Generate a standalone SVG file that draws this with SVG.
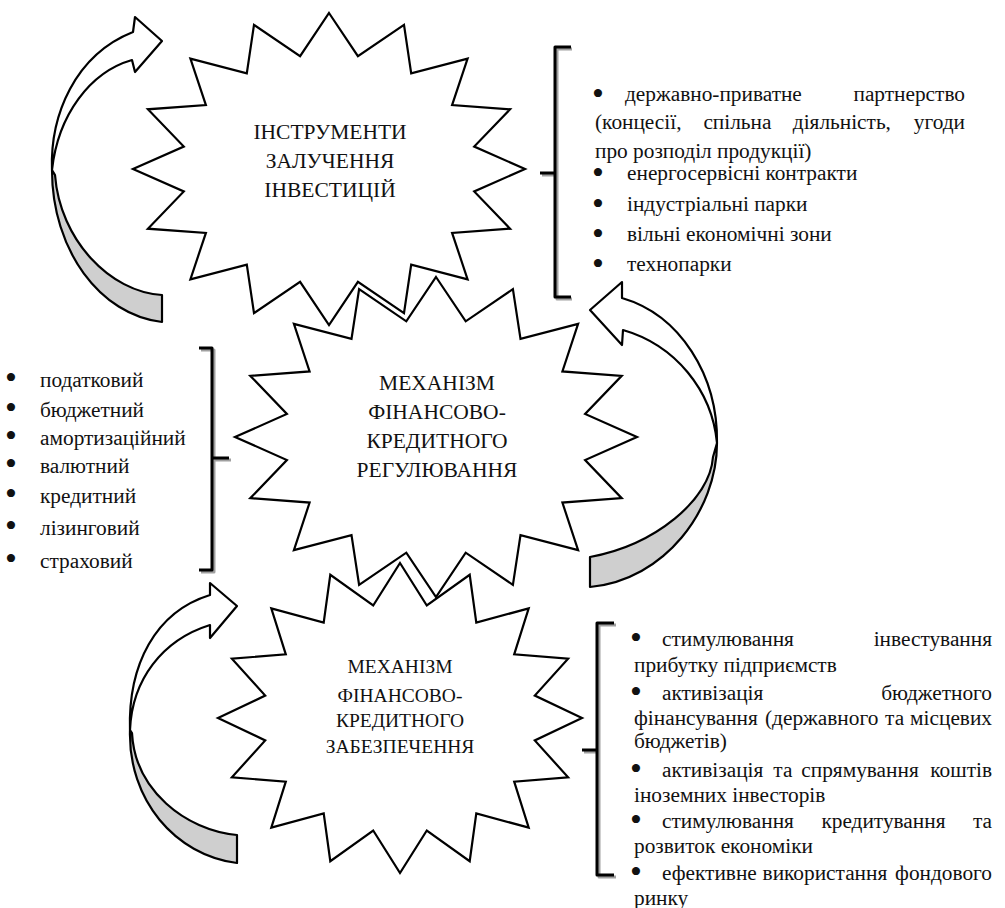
<svg xmlns="http://www.w3.org/2000/svg" width="1005" height="908" viewBox="0 0 1005 908">
<style>
.star{fill:#fff;stroke:#000;stroke-width:2.2;stroke-linejoin:miter}
.lbl{font-family:"Liberation Serif","Times New Roman",serif;font-size:21.5px;fill:#111;text-anchor:middle}
.lbl2{font-family:"Liberation Serif","Times New Roman",serif;font-size:19.5px;fill:#111;text-anchor:middle}
.t{font-family:"Liberation Serif","Times New Roman",serif;font-size:21.33px;fill:#111}
.b{font-family:"Liberation Serif","Times New Roman",serif;font-size:34px;fill:#111}
.e{text-anchor:end}
.arr{stroke:#000;stroke-width:2.2;stroke-linejoin:round}
.front{fill:#fff}
.back{fill:#cfcfcf}
.br{fill:none;stroke:#000;stroke-width:3;stroke-linejoin:round}
.brs{fill:none;stroke:#a0a0a0;stroke-width:3;stroke-linejoin:round}
</style>
<rect width="1005" height="908" fill="#fff"/>

<g id="connectors">
  <g id="arrow-top-left">
    <path class="arr back" d="M52,170 C52,250 100,315 162,322 L162,295 C110,292 60,240 55,175 Z"/>
    <path class="arr front" d="M52,170 C50,115 75,55 133,32 L135,17 L162,41 L135,72 L132,60 C90,72 58,115 52,170 Z"/>
  </g>
  <g id="arrow-right">
    <path class="arr back" d="M717,443 C717,510 665,580 590,587 L590,557 C655,545 710,500 713,457 Z"/>
    <path class="arr front" d="M717,443 C718,375 680,315 622,298 L622,282 L590,310 L622,345 L623,330 C675,345 712,390 717,443 Z"/>
  </g>
  <g id="arrow-bottom-left">
    <path class="arr back" d="M130,730 C128,800 175,855 237,863 L237,835 C185,830 135,790 132,733 Z"/>
    <path class="arr front" d="M130,730 C128,665 155,612 210,595 L210,583 L237,606 L210,638 L210,625 C162,640 132,680 130,730 Z"/>
  </g>
</g>

<g id="node-instruments">
  <path class="star" d="M329,13 L357.9,56.2 L404,24.9 L411.2,73.4 L467.6,58.7 L452.1,105.1 L510.1,109.3 L474.2,146.6 L525,169 L474.2,191.4 L510.1,228.7 L452.1,232.9 L467.6,279.3 L411.2,264.6 L404,313.1 L357.9,281.8 L329,325 L300.1,281.8 L254,313.1 L246.8,264.6 L190.4,279.3 L205.9,232.9 L147.9,228.7 L183.8,191.4 L133,169 L183.8,146.6 L147.9,109.3 L205.9,105.1 L190.4,58.7 L246.8,73.4 L254,24.9 L300.1,56.2 Z"/>
  <text class="lbl" x="330" y="139">ІНСТРУМЕНТИ</text>
  <text class="lbl" x="330" y="168">ЗАЛУЧЕННЯ</text>
  <text class="lbl" x="330" y="197">ІНВЕСТИЦІЙ</text>
</g>

<g id="node-regulation">
  <path class="star" d="M436,277 L465.7,321.3 L512.9,289.2 L520.5,338.9 L578.1,323.9 L562.4,371.4 L621.7,375.8 L585.1,414 L637,437 L585.1,460 L621.7,498.2 L562.4,502.6 L578.1,550.1 L520.5,535.1 L512.9,584.8 L465.7,552.7 L436,597 L406.3,552.7 L359.1,584.8 L351.5,535.1 L293.9,550.1 L309.6,502.6 L250.3,498.2 L286.9,460 L235,437 L286.9,414 L250.3,375.8 L309.6,371.4 L293.9,323.9 L351.5,338.9 L359.1,289.2 L406.3,321.3 Z"/>
  <text class="lbl" x="437" y="390">МЕХАНІЗМ</text>
  <text class="lbl" x="437" y="419">ФІНАНСОВО-</text>
  <text class="lbl" x="437" y="448">КРЕДИТНОГО</text>
  <text class="lbl" x="437" y="477">РЕГУЛЮВАННЯ</text>
</g>

<g id="node-provision">
  <path class="star" d="M400,563 L426.8,605.5 L469.7,574.8 L476.3,622.6 L528.7,608.4 L514.2,654.3 L568.1,658.7 L534.8,695.6 L582,718 L534.8,740.4 L568.1,777.3 L514.2,781.7 L528.7,827.6 L476.3,813.4 L469.7,861.2 L426.8,830.5 L400,873 L373.2,830.5 L330.3,861.2 L323.7,813.4 L271.3,827.6 L285.8,781.7 L231.9,777.3 L265.2,740.4 L218,718 L265.2,695.6 L231.9,658.7 L285.8,654.3 L271.3,608.4 L323.7,622.6 L330.3,574.8 L373.2,605.5 Z"/>
  <text class="lbl2" x="400" y="673">МЕХАНІЗМ</text>
  <text class="lbl2" x="400" y="702">ФІНАНСОВО-</text>
  <text class="lbl2" x="400" y="727">КРЕДИТНОГО</text>
  <text class="lbl2" x="400" y="753">ЗАБЕЗПЕЧЕННЯ</text>
</g>

<g id="list-instruments">
  <path class="brs" d="M572,49 H557 V299 H572 M542,175 H557"/>
  <path class="br" d="M571,47 H555 V297 H571 M540,173 H555"/>
  <text class="b" x="592" y="105">•</text>
  <text class="t" x="625" y="101">державно-приватне</text>
  <text class="t e" x="965" y="101">партнерство</text>
  <text class="t" x="595" y="129">(концесії,</text>
  <text class="t" x="703.4" y="129">спільна</text>
  <text class="t" x="792.8" y="129">діяльність,</text>
  <text class="t e" x="965" y="129">угоди</text>
  <text class="t" x="595" y="158">про розподіл продукції)</text>
  <text class="b" x="592" y="184">•</text>
  <text class="t" x="627" y="180">енергосервісні контракти</text>
  <text class="b" x="592" y="215">•</text>
  <text class="t" x="627" y="211">індустріальні парки</text>
  <text class="b" x="592" y="245">•</text>
  <text class="t" x="627" y="241">вільні економічні зони</text>
  <text class="b" x="592" y="275">•</text>
  <text class="t" x="627" y="271">технопарки</text>
</g>

<g id="list-regulation">
  <path class="brs" d="M201,350 H214 V572 H201 M214,460 H231"/>
  <path class="br" d="M199,348 H212 V570 H199 M212,458 H229"/>
  <text class="b" x="5" y="389">•</text>
  <text class="t" x="40" y="387">податковий</text>
  <text class="b" x="5" y="419">•</text>
  <text class="t" x="40" y="417">бюджетний</text>
  <text class="b" x="5" y="447">•</text>
  <text class="t" x="40" y="445">амортизаційний</text>
  <text class="b" x="5" y="475">•</text>
  <text class="t" x="40" y="473">валютний</text>
  <text class="b" x="5" y="505">•</text>
  <text class="t" x="40" y="503">кредитний</text>
  <text class="b" x="5" y="537">•</text>
  <text class="t" x="40" y="535">лізинговий</text>
  <text class="b" x="5" y="570">•</text>
  <text class="t" x="40" y="568">страховий</text>
</g>

<g id="list-provision">
  <path class="brs" d="M616,625 H599 V877 H616 M584,752 H599"/>
  <path class="br" d="M614,623 H597 V875 H614 M582,750 H597"/>
  <text class="b" x="630" y="649">•</text>
  <text class="t" x="662" y="646">стимулювання</text>
  <text class="t e" x="992" y="646">інвестування</text>
  <text class="t" x="634" y="672">прибутку підприємств</text>
  <text class="b" x="630" y="703">•</text>
  <text class="t" x="662" y="700">активізація</text>
  <text class="t e" x="992" y="700">бюджетного</text>
  <text class="t" x="634" y="725">фінансування</text>
  <text class="t" x="765" y="725">(державного</text>
  <text class="t" x="885.1" y="725">та</text>
  <text class="t e" x="992" y="725">місцевих</text>
  <text class="t" x="634" y="748">бюджетів)</text>
  <text class="b" x="630" y="780">•</text>
  <text class="t" x="662" y="777">активізація</text>
  <text class="t" x="773.3" y="777">та</text>
  <text class="t" x="801.3" y="777">спрямування</text>
  <text class="t e" x="992" y="777">коштів</text>
  <text class="t" x="634" y="802">іноземних інвесторів</text>
  <text class="b" x="630" y="831">•</text>
  <text class="t" x="662" y="828">стимулювання</text>
  <text class="t" x="821.4" y="828">кредитування</text>
  <text class="t e" x="992" y="828">та</text>
  <text class="t" x="634" y="853">розвиток економіки</text>
  <text class="b" x="630" y="883">•</text>
  <text class="t" x="662" y="880">ефективне</text>
  <text class="t" x="762.6" y="880">використання</text>
  <text class="t e" x="992" y="880">фондового</text>
  <text class="t" x="634" y="905">ринку</text>
</g>
</svg>
